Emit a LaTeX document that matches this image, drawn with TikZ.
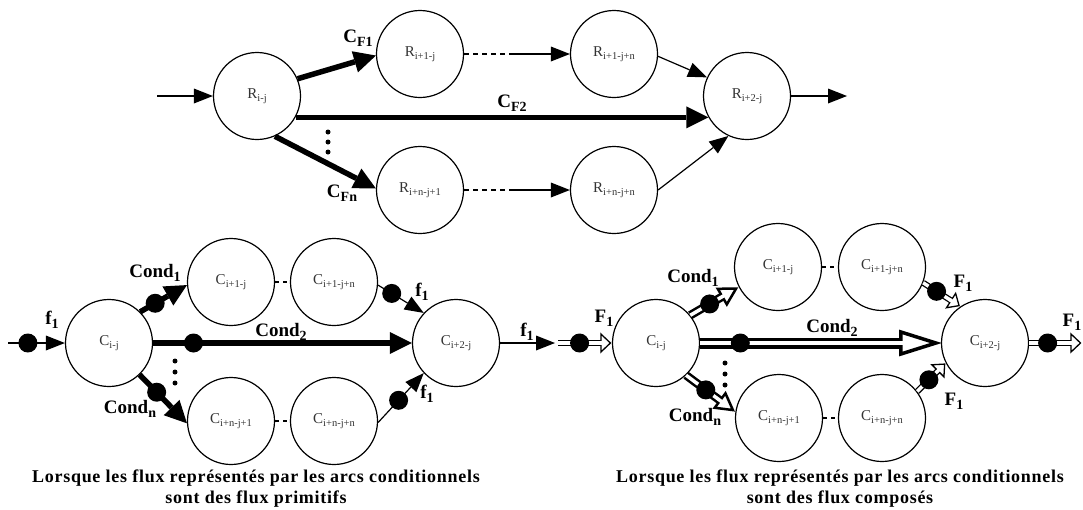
\documentclass[tikz,border=0pt]{standalone}
\usepackage{fontspec}
\usepackage{graphicx}
\setmainfont{Liberation Serif}
\newfontfamily\capfont[LetterSpace=4]{Liberation Serif}
\usetikzlibrary{arrows.meta,calc}
\newcommand\sbn[1]{\raisebox{-0.45ex}{\fontsize{10.5}{11}\selectfont #1}}
\newcommand\sbl[1]{\raisebox{-0.5ex}{\fontsize{14}{14}\selectfont #1}}
% hollow (double) arrow: #1 start, #2 end, #3 outline width, #4 inner gap,
% #5 head length, #6 head half width, #7 dot position, #8 tip pull-back
\newcommand\hollowarrow[8]{%
  \draw[line width=#3, double=white, double distance=#4, shorten >=#5]
     (#1) -- node[dotn,pos=#7]{} (#2);
  \coordinate (hb) at ($(#2)!#5!(#1)$);
  \coordinate (ht) at ($(#2)!#8!(#1)$);
  \draw[line width=#3, fill=white, line join=miter]
     (ht) -- ($(hb)!#6!90:(ht)$) -- ($(hb)!#6!-90:(ht)$) -- cycle;
  \draw[white, line width=#4] ($(hb)!-2pt!(ht)$) -- ($(hb)!2.5pt!(ht)$);
}
\tikzset{
  state/.style={circle, draw, line width=1.2pt, minimum size=87pt, inner sep=0pt,
    font=\fontsize{15}{15}\selectfont, text=black!80},
  lab/.style={font=\bfseries\fontsize{19}{19}\selectfont, inner sep=0pt},
  thinarr/.style={line width=1.2pt, -{Triangle[length=19pt,width=15pt,line width=0pt]}},
  thickarr/.style={line width=5.5pt, -{Triangle[length=22pt,width=22pt,line width=0pt]}},
  dotn/.style={circle, fill=black, minimum size=19pt, inner sep=0pt},
  vdot/.style={circle, fill=black, minimum size=5pt, inner sep=0pt},
  dashc/.style={line width=1.2pt, dash pattern=on 5pt off 4pt},
  caption/.style={align=center, font=\capfont\bfseries\fontsize{18}{21}\selectfont, inner sep=0pt}
}
\begin{document}
\begin{tikzpicture}[x=1pt,y=-1pt]
\useasboundingbox (0,0) rectangle (1083,509);

% ================= top diagram =================
\node[state] (Rij) at (257,96) {R\sbn{i-j}};
\node[state] (R1)  at (420,54) {R\sbn{i+1-j}};
\node[state] (R1n) at (614,54) {R\sbn{i+1-j+n}};
\node[state] (Rn1) at (420,190) {R\sbn{i+n-j+1}};
\node[state] (Rnn) at (614,190) {R\sbn{i+n-j+n}};
\node[state] (Ri2) at (747,96) {R\sbn{i+2-j}};
\coordinate (tin) at (157,96);
\coordinate (tout) at (847,96);
\coordinate (m1) at (513,54);
\coordinate (m2) at (513,190);

\draw[thinarr] (tin) -- (Rij.west);
\draw[thinarr] (Ri2.east) -- (tout);
\draw[thickarr] (Rij.23) -- (R1.182);
\draw[thickarr] (Rij.-29.2) -- (Ri2.209.2);
\draw[thickarr] (Rij.-66) -- (Rn1.178);
\draw[dashc] (R1.east) -- (m1);
\draw[thinarr] (m1) -- (R1n.west);
\draw[dashc] (Rn1.east) -- (m2);
\draw[thinarr] (m2) -- (Rnn.west);
\draw[thinarr] (R1n.-3) -- (Ri2.155);
\draw[thinarr] (Rnn.0) -- (Ri2.245);

\node[lab] (lf1) at (358,38) {C\sbl{F1}};
\node[lab] (lf2) at (512,103) {C\sbl{F2}};
\node[lab] (lfn) at (342,193) {C\sbl{Fn}};
\node[vdot] (td1) at (328,132) {};
\node[vdot] (td2) at (328,142) {};
\node[vdot] (td3) at (328,152) {};

% ================= bottom-left diagram =================
\node[state] (Cij) at (109,343) {C\sbn{i-j}};
\node[state] (C1)  at (231,282) {C\sbn{i+1-j}};
\node[state] (C1n) at (334,282) {C\sbn{i+1-j+n}};
\node[state] (Cn1) at (231,421) {C\sbn{i+n-j+1}};
\node[state] (Cnn) at (334,421) {C\sbn{i+n-j+n}};
\node[state] (Ci2) at (456,343) {C\sbn{i+2-j}};
\coordinate (lin) at (8,343);
\coordinate (lout) at (555,343);

\draw[thinarr] (lin) -- node[dotn,pos=0.35]{} (Cij.west);
\draw[thickarr] (Cij.45) -- node[dotn,pos=0.32]{} (C1.184);
\draw[thickarr] (Cij.east) -- node[dotn,pos=0.156]{} (Ci2.west);
\draw[thickarr] (Cij.-46.4) -- node[dotn,pos=0.36]{} (Cn1.183);
\draw[line width=1.2pt, dash pattern=on 4pt off 4pt] (C1) -- (C1n);
\draw[line width=1.2pt, dash pattern=on 4pt off 4pt] (Cn1) -- (Cnn);
\draw[thinarr] (C1n.-4) -- node[dotn,pos=0.3]{} (Ci2.137);
\draw[thinarr] (Cnn.-2.6) -- node[dotn,pos=0.45]{} (Ci2.223.6);
\draw[thinarr] (Ci2.east) -- (lout);

\node[lab] (lb1) at (52,320) {f\sbl{1}};
\node[lab] (lb2) at (155,273) {Cond\sbl{1}};
\node[lab] (lb3) at (281,332) {Cond\sbl{2}};
\node[lab] (lb4) at (130,409) {Cond\sbl{n}};
\node[lab] (lb5) at (422,292) {f\sbl{1}};
\node[lab] (lb6) at (427,394) {f\sbl{1}};
\node[lab] (lb7) at (527,332) {f\sbl{1}};
\node[vdot] (ld1) at (175,361) {};
\node[vdot] (ld2) at (175,372) {};
\node[vdot] (ld3) at (175,383) {};

\node[caption] (cap1) at (256,489) {Lorsque les flux représentés par les arcs conditionnels\\sont des flux primitifs};

% ================= bottom-right diagram =================
\node[state] (Dij) at (656,343) {C\sbn{i-j}};
\node[state] (D1)  at (778,267) {C\sbn{i+1-j}};
\node[state] (D1n) at (882,267) {C\sbn{i+1-j+n}};
\node[state] (Dn1) at (779,418) {C\sbn{i+n-j+1}};
\node[state] (Dnn) at (882,418) {C\sbn{i+n-j+n}};
\node[state] (Di2) at (985,343) {C\sbn{i+2-j}};
\coordinate (rin) at (558,343);
\coordinate (rout) at (1082,343);

\draw[line width=1.2pt, dash pattern=on 4pt off 4pt] (D1) -- (D1n);
\draw[line width=1.2pt, dash pattern=on 4pt off 4pt] (Dn1) -- (Dnn);
\hollowarrow{rin}{Dij.west}{1.3pt}{3.5pt}{11pt}{9pt}{0.4}{1.5pt}
\hollowarrow{Dij.39}{D1.207}{2.5pt}{3.5pt}{19pt}{9pt}{0.4}{3pt}
\hollowarrow{Dij.-47.5}{Dn1.172}{2.5pt}{3.5pt}{19pt}{9pt}{0.4}{3pt}
\hollowarrow{Dij.east}{Di2.west}{3.5pt}{4pt}{40pt}{11pt}{0.167}{5pt}
\hollowarrow{D1n.-21}{Di2.124}{1.3pt}{3.5pt}{11pt}{8.5pt}{0.36}{1.5pt}
\hollowarrow{Dnn.37.6}{Di2.207}{1.3pt}{3.5pt}{11pt}{8.5pt}{0.41}{1.5pt}
\hollowarrow{Di2.east}{rout}{1.3pt}{3.5pt}{11pt}{9pt}{0.35}{1.5pt}

\node[lab] (rb1) at (604,318) {F\sbl{1}};
\node[lab] (rb2) at (693,278) {Cond\sbl{1}};
\node[lab] (rb3) at (832,328) {Cond\sbl{2}};
\node[lab] (rb4) at (695,417) {Cond\sbl{n}};
\node[lab] (rb5) at (963,283) {F\sbl{1}};
\node[lab] (rb6) at (954,401) {F\sbl{1}};
\node[lab] (rb7) at (1072,322) {F\sbl{1}};
\node[vdot] (rd1) at (725,363) {};
\node[vdot] (rd2) at (725,374) {};
\node[vdot] (rd3) at (725,385) {};

\node[caption] (cap2) at (840,489) {Lorsque les flux représentés par les arcs conditionnels\\sont des flux composés};
\end{tikzpicture}
\end{document}
